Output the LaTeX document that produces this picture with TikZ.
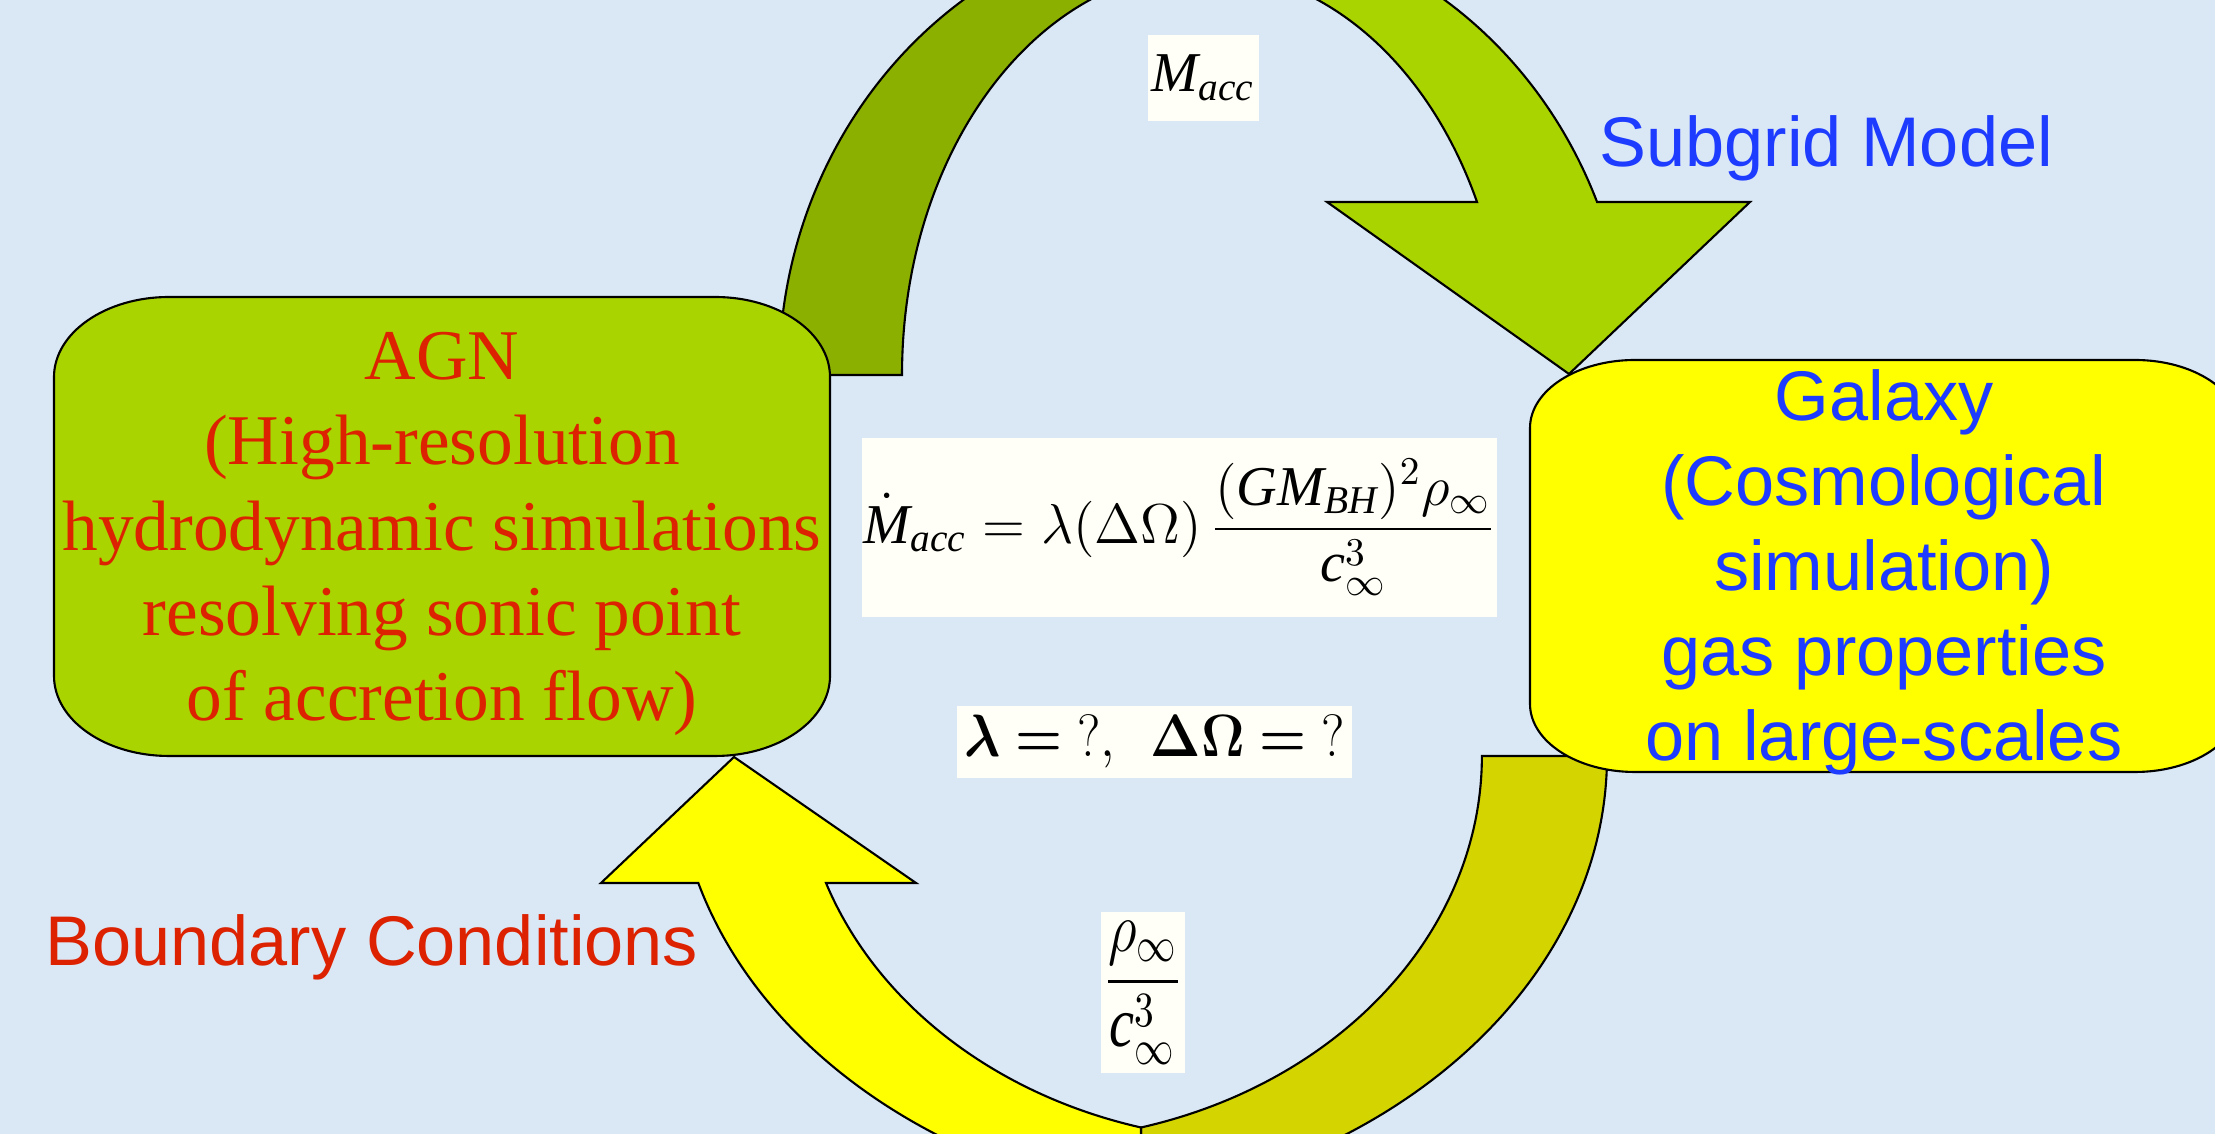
\documentclass[tikz,border=0pt]{standalone}
\usepackage{fix-cm}
\usepackage{amsmath}
\usepackage{graphicx}
\usepackage{fontspec}
\setmainfont{Liberation Serif}
\newfontfamily\arialfont{Liberation Sans}
\definecolor{skybg}{HTML}{DAE7F5}
\definecolor{limefill}{HTML}{AAD400}
\definecolor{olivefill}{HTML}{8CB000}
\definecolor{yellowfill}{HTML}{FFFF00}
\definecolor{mustardfill}{HTML}{D4D400}
\definecolor{agnred}{HTML}{DC2200}
\definecolor{galblue}{HTML}{1E3CFF}
\definecolor{paper}{HTML}{FFFFF8}
\begin{document}
\begin{tikzpicture}[x=0.1mm, y=0.1mm,
  outline/.style={draw=black, line width=0.6pt},
  mathbox/.style={fill=paper, inner sep=0pt, font=\fontsize{16}{19}\selectfont},
  sanslabel/.style={font=\arialfont\fontsize{20}{24.2}\selectfont, inner sep=0pt, anchor=base west}]
\useasboundingbox (0,0) rectangle (2215,1134);
\fill[skybg] (0,0) rectangle (2215,1134);

\filldraw[outline, fill=olivefill] (779,759) arc[start angle=180, end angle=90, x radius=42.5mm, y radius=45.5mm] -- (1204,1164) arc[start angle=90, end angle=180, x radius=30.2mm, y radius=40.5mm] -- cycle;
\filldraw[outline, fill=limefill] (1204,1214) arc[start angle=90, end angle=22.35, x radius=42.5mm, y radius=45.5mm] -- (1750,932) -- (1569,760) -- (1327,932) -- (1477,932) arc[start angle=25.3, end angle=90, x radius=30.2mm, y radius=40.5mm] -- cycle;

\filldraw[outline, fill=mustardfill] (1482,378) -- (1607,378) arc[start angle=0, end angle=-78.1, x radius=58.7mm, y radius=45.5mm] -- (1141,6.5) arc[start angle=-74.8, end angle=0, x radius=46.2mm, y radius=38.5mm] -- cycle;
\filldraw[outline, fill=yellowfill] (698.3,251) arc[start angle=196.21, end angle=258.1, x radius=58.7mm, y radius=45.5mm] -- (1141,6.5) arc[start angle=254.8, end angle=199.26, x radius=46.2mm, y radius=38.5mm] -- (916,251) -- (734,377) -- (601,251) -- cycle;

\filldraw[outline, fill=limefill] (169,837) -- (715,837) arc[start angle=90, end angle=0, x radius=11.5mm, y radius=8mm] -- (830,458) arc[start angle=0, end angle=-90, x radius=11.5mm, y radius=8mm] -- (169,378) arc[start angle=270, end angle=180, x radius=11.5mm, y radius=8mm] -- (54,757) arc[start angle=180, end angle=90, x radius=11.5mm, y radius=8mm] -- cycle;
\filldraw[outline, fill=yellowfill] (1635,774) -- (2135,774) arc[start angle=90, end angle=0, x radius=10.5mm, y radius=6.8mm] -- (2240,430) arc[start angle=0, end angle=-90, x radius=10.5mm, y radius=6.8mm] -- (1635,362) arc[start angle=270, end angle=180, x radius=10.5mm, y radius=6.8mm] -- (1530,706) arc[start angle=180, end angle=90, x radius=10.5mm, y radius=6.8mm] -- cycle;

\node[font=\fontsize{20.3}{24.2}\selectfont, text=agnred, align=center] (agn) at (442,600) {AGN\\(High-resolution\\hydrodynamic simulations\\resolving sonic point\\of accretion flow)};
\node[font=\arialfont\fontsize{20}{24.2}\selectfont, text=galblue, align=center] (galaxy) at (1884,562) {Galaxy\\(Cosmological\\simulation)\\gas properties\\on large-scales};

\node[mathbox, minimum width=11.1mm, minimum height=8.6mm] (macc) at (1203.5,1056) {$\mathit{M}_{\mathit{acc}}$};
\node[mathbox, minimum width=63.5mm, minimum height=17.9mm] (rate) at (1179.5,606.5) {\raisebox{-0.6mm}{$\displaystyle \dot{\mathit{M}}_{\mathit{acc}} = \lambda(\Delta\Omega)\,\frac{(\mathit{GM}_{\mathit{BH}})^2\rho_\infty}{\mathit{c}_\infty^3}$}};
\node[mathbox, minimum width=39.5mm, minimum height=7.2mm, font=\fontsize{17}{20}\selectfont] (unknowns) at (1154.5,392) {\scalebox{0.9}[1]{$\boldsymbol{\lambda} \mathrel{\boldsymbol{=}} \mathrm{?},\ \ \boldsymbol{\Delta\Omega} \mathrel{\boldsymbol{=}} \mathrm{?}$}};
\node[mathbox, minimum width=8.4mm, minimum height=16.1mm] (ratio) at (1143,141.5) {\scalebox{1}[1.25]{$\displaystyle\frac{\rho_\infty}{\mathit{c}_\infty^3}$}};

\node[sanslabel, text=galblue] (subgrid) at (1599,967) {Subgrid Model};
\node[sanslabel, text=agnred] (boundary) at (45,168) {Boundary Conditions};
\end{tikzpicture}
\end{document}
